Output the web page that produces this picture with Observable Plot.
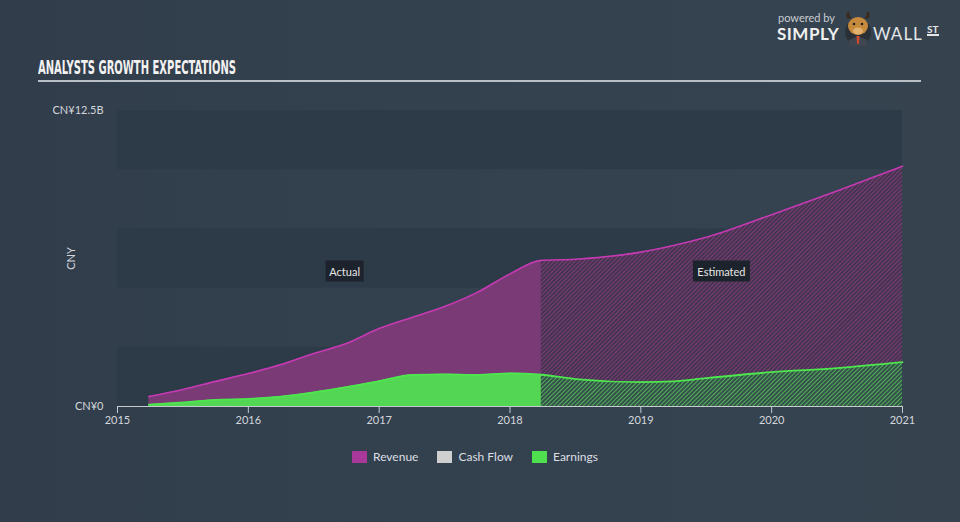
<!DOCTYPE html>
<html>
<head>
<meta charset="utf-8">
<script src="https://cdn.jsdelivr.net/npm/d3@7"></script>
<script src="https://cdn.jsdelivr.net/npm/@observablehq/plot@0.6"></script>
<style>
  html, body { margin: 0; padding: 0; background: #333f4d; }
  #wrap { position: relative; width: 960px; height: 522px; overflow: hidden;
          background: linear-gradient(90deg, #313d4b 0%, #344250 60%, #36434f 100%);
          font-family: Lato, "Open Sans", sans-serif; }
  #chart { position: absolute; left: 0; top: 0; }
  #title { position: absolute; left: 38px; top: 56px; color: #f2f2f2; font-family: "Liberation Sans Narrow", "DejaVu Sans Condensed", sans-serif;
           font-weight: bold; font-size: 19px; white-space: nowrap; transform-origin: 0 0; letter-spacing: 0px; }
  #rule { position: absolute; left: 38px; top: 80px; width: 883px; height: 2px; background: #b9bfc7; }
  .tag { position: absolute; background: #1d232c; color: #e6e6e6; font-size: 11px; padding: 0 4px; height: 21px; line-height: 21px;
         transform: translate(-50%, -50%); white-space: nowrap; }
  #legend { position: absolute; left: 352px; top: 449px; display: flex; align-items: center; font-size: 12px; color: #dcdfe3; }
  #legend .sw { width: 15px; height: 12px; display: inline-block; margin-right: 6px; }
  #legend .item { display: flex; align-items: center; margin-right: 19px; }
  #logo { position: absolute; left: 777px; top: 10px; color: #e8e8e8; }
  #logo div { line-height: 1; white-space: nowrap; position: absolute; }
</style>
</head>
<body>
<div id="wrap">
  <div id="chart"></div>
  <div id="title">ANALYSTS GROWTH EXPECTATIONS</div>
  <div id="rule"></div>
  <div id="legend"></div>
  <div id="logo">
    <div style="left:1px;top:2px;font-size:11px;color:#c9cdd2;">powered by</div>
    <div style="left:0;top:15px;font-size:17px;font-weight:bold;letter-spacing:0.5px;color:#f0f0f0;">SIMPLY</div>
    <svg style="position:absolute;left:64px;top:0px" width="34" height="40" viewBox="0 0 34 40">
      <circle cx="17" cy="22" r="13" fill="#2b2f36"/>
      <path d="M6 8 Q4 3 8 1 Q8 6 11 9 Z" fill="#3a2a1c"/>
      <path d="M28 8 Q30 3 26 1 Q26 6 23 9 Z" fill="#3a2a1c"/>
      <ellipse cx="17" cy="16" rx="10" ry="9" fill="#c58a3c"/>
      <ellipse cx="17" cy="21" rx="5" ry="3.5" fill="#e2b170"/>
      <circle cx="13" cy="14" r="1.3" fill="#222"/>
      <circle cx="21" cy="14" r="1.3" fill="#222"/>
      <path d="M8 30 L17 26 L26 30 L26 36 L8 36 Z" fill="#404650"/>
      <path d="M15.5 26 L18.5 26 L17.8 34 L16.2 34 Z" fill="#d64a2a"/>
    </svg>
    <div style="left:96px;top:15px;font-size:17px;letter-spacing:1px;color:#e4e6e9;">WALL</div>
    <div style="left:150px;top:14px;font-size:10px;font-weight:bold;color:#e4e6e9;border-bottom:2px solid #e4e6e9;">ST</div>
  </div>
</div>
<script>
// ---- data (values in CNY billions) ----
const actualYears    = [2015.24, 2015.5, 2015.75, 2016.0, 2016.25, 2016.5, 2016.75, 2017.0, 2017.25, 2017.5, 2017.75, 2018.0, 2018.24];
const actualRevenue  = [0.42, 0.72, 1.06, 1.39, 1.77, 2.24, 2.66, 3.29, 3.76, 4.22, 4.82, 5.6, 6.17];
const actualEarnings = [0.08, 0.17, 0.28, 0.32, 0.42, 0.6, 0.82, 1.07, 1.33, 1.36, 1.33, 1.4, 1.34];

const estYears       = [2018.24, 2018.5, 2019.0, 2019.25, 2019.5, 2020.0, 2020.5, 2021.0];
const estRevenue     = [6.17, 6.22, 6.52, 6.8, 7.15, 8.1, 9.1, 10.15];
const estEarnings    = [1.34, 1.16, 1.03, 1.06, 1.2, 1.45, 1.62, 1.87];

const xTicks = [2015, 2016, 2017, 2018, 2019, 2020, 2021];
const yTicks = [0, 12.5];
const yTickLabels = ["CN¥0", "CN¥12.5B"];
const bandsLow  = [0, 5, 10];
const bandsHigh = [2.5, 7.5, 12.5];

const legendNames  = ["Revenue", "Cash Flow", "Earnings"];
const legendColors = ["#a8389a", "#cfcfcf", "#4fe04f"];

const tagLabels = ["Actual", "Estimated"];
const tagYears  = [2016.74, 2019.62];
const tagValue  = 5.7;

// ---- tables ----
const actual = actualYears.map((year, i) => ({year, revenue: actualRevenue[i], earnings: actualEarnings[i]}));
const estimate = estYears.map((year, i) => ({year, revenue: estRevenue[i], earnings: estEarnings[i]}));
const all = actual.concat(estimate.slice(1));
const bands = bandsLow.map((y1, i) => ({y1, y2: bandsHigh[i]}));
const curve = "monotone-x";

const plot = Plot.plot({
  width: 960,
  height: 522,
  marginLeft: 117,
  marginRight: 58,
  marginTop: 110,
  marginBottom: 116,
  style: {background: "transparent", color: "#d3d7dc", fontFamily: "Lato, 'Open Sans', sans-serif", fontSize: "11px"},
  x: {domain: [2015, 2021]},
  y: {domain: [0, 12.5]},
  marks: [
    Plot.rect(bands, {y1: "y1", y2: "y2", fill: "#2d3a48"}),
    Plot.areaY(actual, {x: "year", y: "revenue", fill: "#7a3a76", curve}),
    Plot.areaY(estimate, {x: "year", y: "revenue", fill: "url(#hatchRev)", curve}),
    Plot.areaY(actual, {x: "year", y: "earnings", fill: "#53d653", curve}),
    Plot.areaY(estimate, {x: "year", y: "earnings", fill: "url(#hatchEarn)", curve}),
    Plot.lineY(all, {x: "year", y: "revenue", stroke: "#c53ab2", strokeWidth: 1.6, curve}),
    Plot.lineY(all, {x: "year", y: "earnings", stroke: "#4ee64e", strokeWidth: 1.8, curve}),
    Plot.ruleY([0], {stroke: "#c5cad1", strokeWidth: 1.2}),
    Plot.axisX({ticks: xTicks, tickFormat: d => String(d), tickSize: 7, tickPadding: 3, stroke: "#c5cad1", label: null}),
    Plot.axisY({ticks: yTicks, tickFormat: d => yTickLabels[yTicks.indexOf(d)], tickSize: 0, tickPadding: 14,
                label: "CNY", labelAnchor: "center", labelArrow: "none", labelOffset: 50})
  ]
});

const defs = document.createElementNS("http://www.w3.org/2000/svg", "defs");
defs.innerHTML = `
  <pattern id="hatchRev" width="3" height="3" patternUnits="userSpaceOnUse" patternTransform="rotate(45)">
    <rect width="3" height="3" fill="#45344f"/>
    <line x1="0" y1="0" x2="0" y2="3" stroke="#8a3f83" stroke-width="1.6"/>
  </pattern>
  <pattern id="hatchEarn" width="3" height="3" patternUnits="userSpaceOnUse" patternTransform="rotate(45)">
    <rect width="3" height="3" fill="#34504a"/>
    <line x1="0" y1="0" x2="0" y2="3" stroke="#5cc95e" stroke-width="1.6"/>
  </pattern>`;
plot.prepend(defs);
document.getElementById("chart").appendChild(plot);

// annotation tags placed with the plot's scales
const xs = plot.scale("x"), ys = plot.scale("y");
const wrap = document.getElementById("wrap");
tagLabels.forEach((t, i) => {
  const d = document.createElement("div");
  d.className = "tag";
  d.textContent = t;
  d.style.left = xs.apply(tagYears[i]) + "px";
  d.style.top = ys.apply(tagValue) + "px";
  wrap.appendChild(d);
});

// legend
const legend = document.getElementById("legend");
legendNames.forEach((n, i) => {
  const it = document.createElement("div");
  it.className = "item";
  it.innerHTML = `<span class="sw" style="background:${legendColors[i]}"></span><span>${n}</span>`;
  legend.appendChild(it);
});

// fit condensed title to reference width
const title = document.getElementById("title");
const w = title.getBoundingClientRect().width;
title.style.transform = `scaleX(${198 / w})`;
</script>
</body>
</html>
